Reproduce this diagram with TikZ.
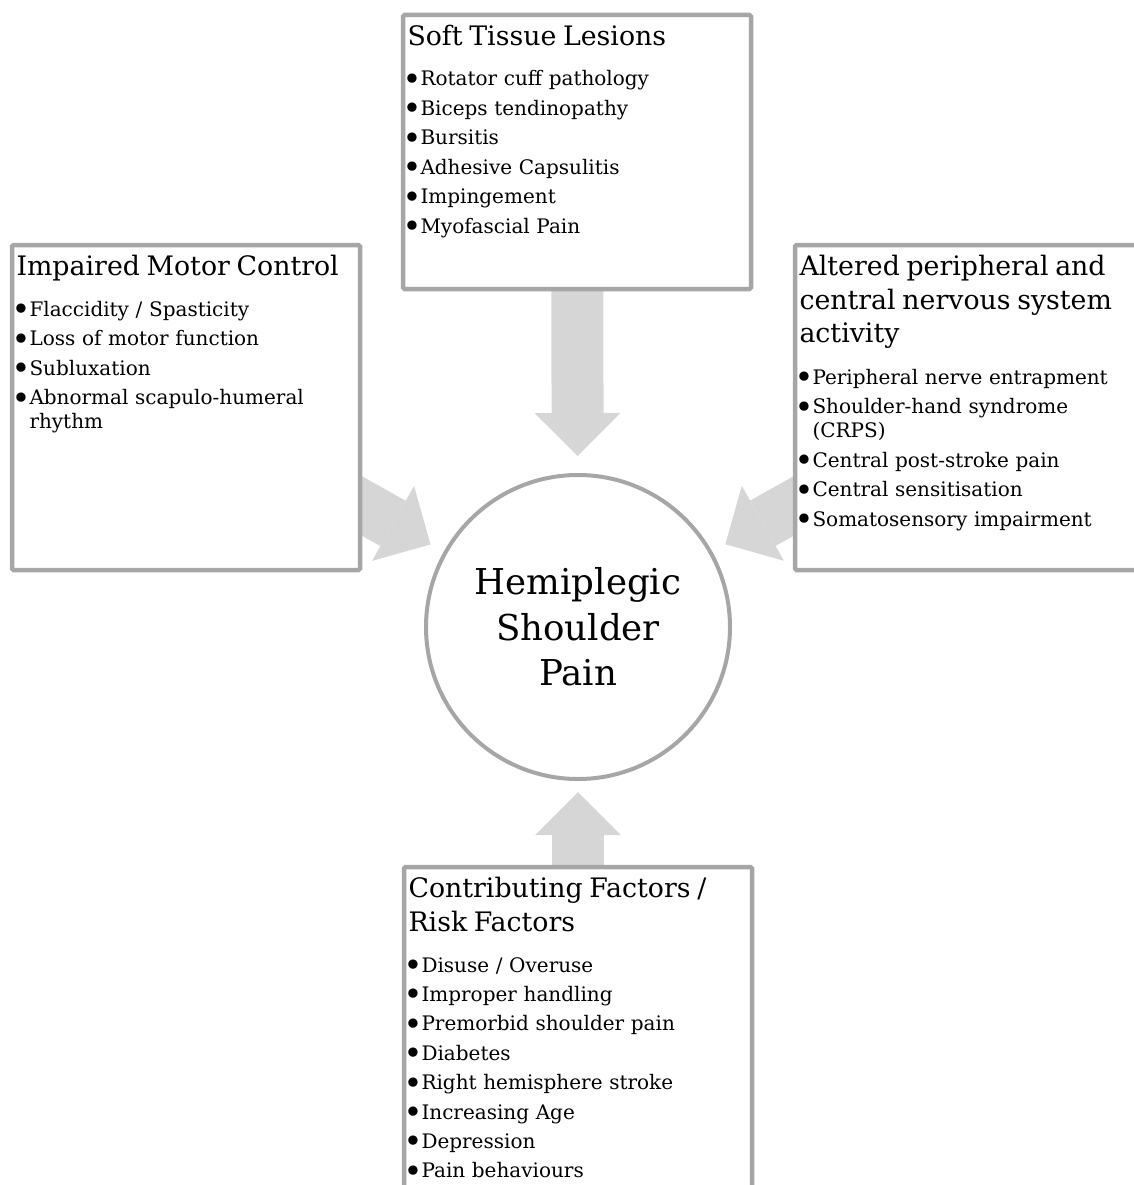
\documentclass[tikz,border=0pt]{standalone}
\usepackage{fontspec}
\setmainfont{DejaVu Serif}
\usepackage{tikz}
\usetikzlibrary{arrows.meta, positioning, backgrounds, calc}

\definecolor{hsframe}{HTML}{A6A6A6}
\definecolor{hsfill}{HTML}{D6D6D6}

\newcommand{\boxtitle}{\fontsize{26.8}{33.5}\selectfont}
\newcommand{\boxitem}{\fontsize{20}{24}\selectfont}
\newcommand{\hsdot}{\raisebox{-4.5pt}{\fontsize{32}{24}\selectfont\textbullet}}
\newcommand{\hsitem}[1]{\makebox[13pt][l]{\hspace{-5pt}\hsdot}#1}
\newcommand{\hsindent}{\hspace*{13pt}}

\begin{document}
\begin{tikzpicture}[x=1pt, y=-1pt,
  factor/.style={rectangle, rounded corners=1.5pt, draw=hsframe, line width=4.5pt,
                 fill=white, anchor=north west, outer sep=0pt,
                 inner xsep=4.5pt, inner ysep=0pt, text width=339pt, align=left,
                 text height=30.5pt, font=\boxitem},
  core/.style={circle, draw=hsframe, line width=4pt, fill=white, outer sep=0pt,
               minimum size=304pt, inner sep=0pt, align=center,
               font=\fontsize{35.6}{45.5}\selectfont},
  push/.style={line width=52pt, draw=hsfill,
               -{Triangle[length=43pt, width=86pt, line width=0pt]}}
]
\useasboundingbox (0,0) rectangle (1134,1185);
\clip (0,0) rectangle (1134,1185);

%% Centre
\node[core] (hsp) at (578,627) {Hemiplegic\\Shoulder\\Pain};

%% Boxes
\node[factor, text depth=243.5pt] (lesion) at (403,15) {%
  {\boxtitle Soft Tissue Lesions\\[16.5pt]}
  \hsitem{Rotator cuff pathology}\\[5.5pt]
  \hsitem{Biceps tendinopathy}\\[5.5pt]
  \hsitem{Bursitis}\\[5.5pt]
  \hsitem{Adhesive Capsulitis}\\[5.5pt]
  \hsitem{Impingement}\\[5.5pt]
  \hsitem{Myofascial Pain}};

\node[factor, text depth=294.5pt] (motor) at (12,245) {%
  {\boxtitle Impaired Motor Control\\[16.5pt]}
  \hsitem{Flaccidity / Spasticity}\\[5.5pt]
  \hsitem{Loss of motor function}\\[5.5pt]
  \hsitem{Subluxation}\\[5.5pt]
  \hsitem{Abnormal scapulo-humeral}\\
  \hsindent rhythm};

\node[factor, text depth=294.5pt] (nerve) at (795,245) {%
  {\boxtitle Altered peripheral and\\central nervous system\\activity\\[17.5pt]}
  \hsitem{Peripheral nerve entrapment}\\[5.5pt]
  \hsitem{Shoulder-hand syndrome}\\
  \hsindent (CRPS)\\[5.5pt]
  \hsitem{Central post-stroke pain}\\[5.5pt]
  \hsitem{Central sensitisation}\\[5.5pt]
  \hsitem{Somatosensory impairment}};

\node[factor, text depth=310pt] (risk) at (404,867) {%
  {\boxtitle Contributing Factors /\\Risk Factors\\[17pt]}
  \hsitem{Disuse / Overuse}\\[5.4pt]
  \hsitem{Improper handling}\\[5.4pt]
  \hsitem{Premorbid shoulder pain}\\[5.4pt]
  \hsitem{Diabetes}\\[5.4pt]
  \hsitem{Right hemisphere stroke}\\[5.4pt]
  \hsitem{Increasing Age}\\[5.4pt]
  \hsitem{Depression}\\[5.4pt]
  \hsitem{Pain behaviours}};

%% Arrows
\begin{scope}[on background layer]
  \draw[push] (lesion.center) -- ($(hsp.center)!171pt!(lesion.center)$);
  \draw[push] (motor.center) -- ($(hsp.center)!169pt!(motor.center)$);
  \draw[push] (nerve.center) -- ($(hsp.center)!169pt!(nerve.center)$);
  \draw[push] (risk.center) -- ($(hsp.center)!165pt!(risk.center)$);
\end{scope}
\end{tikzpicture}
\end{document}
